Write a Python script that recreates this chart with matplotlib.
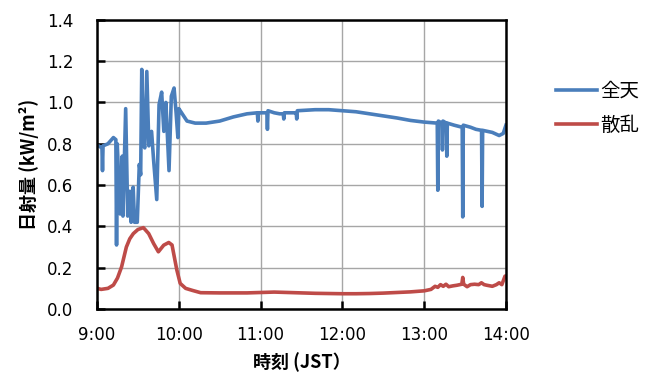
import matplotlib
matplotlib.use("Agg")
import matplotlib.pyplot as plt

plt.rcParams['font.family'] = ['Noto Sans CJK JP', 'DejaVu Sans']

# minutes after 9:00 and irradiance (kW/m2)
global_min = [0, 1, 3.6, 4, 4.4, 8, 12, 13.8, 14.3, 14.8, 17, 18.5, 19, 21,
              22.5, 24, 25, 26.5, 27.5, 29.5, 31, 32, 32.8, 34, 35, 36.5, 38,
              40, 41.5, 43.8, 45.5, 47.4, 49, 50.5, 52.8, 54.5, 56.5, 58,
              59.3, 60, 62, 66, 72, 80, 90, 100, 110, 117.6, 118, 118.4, 120,
              124.6, 125, 125.4, 130, 134, 136.6, 137, 137.4, 145, 146.1,
              146.5, 146.9, 160, 170, 180, 190, 200, 210, 220, 230, 240,
              249.6, 250, 250.4, 253, 253.4, 253.8, 256.2, 256.6, 257, 262,
              267.9, 268.3, 268.7, 274, 278, 282.1, 282.5, 282.9, 290, 295,
              298, 300]
global_val = [0.79, 0.79, 0.78, 0.67, 0.79, 0.80, 0.83, 0.82, 0.31, 0.80,
              0.46, 0.74, 0.45, 0.97, 0.45, 0.57, 0.42, 0.59, 0.42, 0.42,
              0.70, 0.65, 1.16, 0.80, 0.78, 1.15, 0.79, 0.86, 0.72, 0.53,
              0.99, 1.05, 0.86, 1.00, 0.67, 1.03, 1.07, 0.95, 0.83, 0.97,
              0.95, 0.91, 0.90, 0.90, 0.91, 0.93, 0.945, 0.95, 0.91, 0.95,
              0.95, 0.95, 0.87, 0.96, 0.95, 0.945, 0.945, 0.92, 0.95, 0.95,
              0.95, 0.92, 0.96, 0.965, 0.965, 0.96, 0.955, 0.945, 0.935,
              0.925, 0.913, 0.905, 0.90, 0.575, 0.91, 0.90, 0.77, 0.91, 0.90,
              0.74, 0.90, 0.89, 0.88, 0.446, 0.89, 0.88, 0.87, 0.865, 0.497,
              0.865, 0.855, 0.84, 0.85, 0.89]

diffuse_min = [0, 3, 8, 12, 15, 18, 21.5, 24, 26.6, 30, 34, 37.9, 41.5, 45,
               48.9, 52.6, 55, 58.5, 61, 65, 70, 76, 90, 110, 120, 130, 140,
               150, 160, 170, 180, 190, 200, 210, 220, 230, 240, 245, 248,
               250, 252, 254, 256, 258, 261, 264, 267.6, 268.3, 269, 271.5,
               274, 277, 280, 282, 284, 286, 290, 293, 295, 297, 299.3, 300]
diffuse_val = [0.10, 0.095, 0.10, 0.116, 0.15, 0.204, 0.30, 0.34, 0.365,
               0.385, 0.394, 0.365, 0.317, 0.277, 0.309, 0.322, 0.31, 0.19,
               0.124, 0.10, 0.09, 0.079, 0.078, 0.078, 0.08, 0.082, 0.08,
               0.078, 0.076, 0.075, 0.074, 0.074, 0.075, 0.077, 0.08, 0.083,
               0.088, 0.095, 0.11, 0.105, 0.118, 0.11, 0.12, 0.108, 0.112,
               0.115, 0.12, 0.153, 0.12, 0.108, 0.118, 0.12, 0.118, 0.127,
               0.118, 0.115, 0.11, 0.118, 0.127, 0.118, 0.159, 0.16]

hour_ticks = [9, 10, 11, 12, 13, 14]
hour_labels = ["9:00", "10:00", "11:00", "12:00", "13:00", "14:00"]

fig = plt.figure(figsize=(6.47, 3.78), dpi=100)
ax = fig.add_axes([0.150, 0.1825, 0.632, 0.765])

ax.plot([9 + m / 60 for m in global_min], global_val, color="#4a7ebb",
        lw=2.6, label="全天", solid_joinstyle="round")
ax.plot([9 + m / 60 for m in diffuse_min], diffuse_val, color="#be4b48",
        lw=2.6, label="散乱", solid_joinstyle="round")

ax.set_xlim(9, 14)
ax.set_ylim(0, 1.4)
ax.set_xticks(hour_ticks)
ax.set_xticklabels(hour_labels, fontfamily="DejaVu Sans")
ax.set_yticks([0.0, 0.2, 0.4, 0.6, 0.8, 1.0, 1.2, 1.4])
ax.set_yticklabels([f"{v:.1f}" for v in ax.get_yticks()],
                   fontfamily="DejaVu Sans")

ax.grid(True, color="#a6a6a6", lw=1.0)
ax.set_axisbelow(True)
for s in ax.spines.values():
    s.set_linewidth(1.8)
    s.set_color("black")
ax.tick_params(axis="both", direction="in", length=6, width=1.8,
               labelsize=12, colors="black")
ax.tick_params(axis="y", pad=17)
ax.tick_params(axis="x", pad=12)

ax.set_xlabel("時刻 (JST）", fontsize=13, fontweight="bold", labelpad=6)
ax.set_ylabel("日射量 (kW/m²)", fontsize=13, fontweight="bold", labelpad=6)

fig.legend(loc="center left", bbox_to_anchor=(0.859, 0.713), frameon=False,
           fontsize=14, handlelength=2.1, handletextpad=0.2,
           labelspacing=0.7, borderpad=0, borderaxespad=0)

fig.savefig("out.png", dpi=100)
